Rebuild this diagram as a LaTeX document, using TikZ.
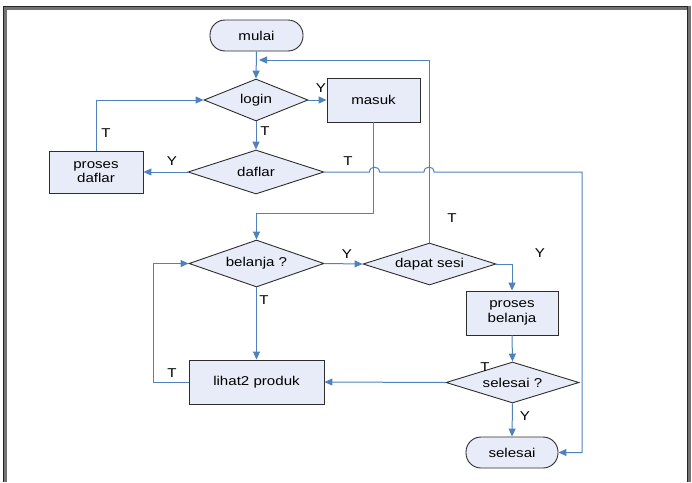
\documentclass[tikz,border=0pt]{standalone}
\usepackage{fontspec}
\setmainfont{Liberation Sans}[FakeStretch=1.18]
\usetikzlibrary{shapes.geometric,arrows.meta}
\definecolor{shapefill}{RGB}{232,236,248}
\definecolor{conn}{RGB}{79,129,189}
\definecolor{edge}{RGB}{45,45,45}
\tikzset{
  base/.style={draw=edge,fill=shapefill,line width=0.9pt,inner sep=0pt,align=center,font=\fontsize{12.8}{14.5}\selectfont},
  term/.style={base,rectangle,rounded corners=15pt},
  procbox/.style={base,rectangle},
  decide/.style={base,diamond,aspect=3},
  conline/.style={draw=conn,line width=1pt},
  arr/.style={conline,-{Triangle[length=8pt,width=7pt]}},
  lbl/.style={font=\fontsize{12.8}{14.5}\selectfont,inner sep=0pt}
}
\begin{document}
\begin{tikzpicture}[x=1pt,y=-1pt]
\useasboundingbox (0,0) rectangle (692,482);
% frame
\draw[line width=4pt,color=black!55] (5,482) -- (5,8) -- (689,8) -- (689,482);
\draw[line width=1pt,color=black!85] (3,482) -- (3,6) -- (687,6) -- (687,482);
% nodes
\node[term,minimum width=93pt,minimum height=31pt] (mulai) at (256.5,35.5) {mulai};
\node[decide,minimum width=104pt,minimum height=42pt] (login) at (256,100) {login};
\node[procbox,minimum width=93pt,minimum height=44pt] (masuk) at (373.5,100) {masuk};
\node[decide,minimum width=136pt,minimum height=44pt] (daflar) at (256,172) {daflar};
\node[procbox,minimum width=94pt,minimum height=42pt] (pdaflar) at (96,172) {proses\\daflar};
\node[decide,minimum width=135pt,minimum height=47pt] (belanja) at (256.5,263.5) {belanja ?};
\node[decide,minimum width=133pt,minimum height=42pt] (sesi) at (429.5,264) {dapat sesi};
\node[procbox,minimum width=92pt,minimum height=44pt] (pbelanja) at (512,313) {proses\\belanja};
\node[decide,minimum width=133pt,minimum height=41pt] (selq) at (512.5,382.5) {selesai ?};
\node[term,minimum width=92pt,minimum height=31pt] (selesai) at (512,452.5) {selesai};
\node[procbox,minimum width=135pt,minimum height=44pt] (lihat) at (256.5,382) {lihat2 produk};
% helper coordinates
\coordinate (ret) at (259,60);
\coordinate (rx) at (582,172);
% connectors
\draw[arr] (mulai.south) -- (login.north);
\draw[arr] (sesi.north) -- (sesi.north |- ret) -- (ret);
\draw[arr] (login.east) -- (masuk.west);
\draw[arr] (login.south) -- (daflar.north);
\draw[arr] (daflar.west) -- (pdaflar.east);
\draw[arr] (pdaflar.north) -- (pdaflar.north |- login.west) -- (login.west);
\draw[arr] (daflar.east) -- (369.5,172) .. controls (369.5,165.5) and (379.5,165.5) .. (379.5,172)
  -- (424,172) .. controls (424,165.5) and (434,165.5) .. (434,172)
  -- (rx) -- (rx |- selesai.east) -- (selesai.east);
\draw[arr] (masuk.south) -- (masuk.south |- 0,213) -- (belanja.north |- 0,213) -- (belanja.north);
\draw[arr] (belanja.east) -- (sesi.west);
\draw[arr] (belanja.south) -- (lihat.north);
\draw[arr] (lihat.west) -- (153,382) -- (153,263.5) -- (belanja.west);
\draw[arr] (sesi.east) -- (pbelanja.north |- sesi.east) -- (pbelanja.north);
\draw[arr] (pbelanja.south) -- (selq.north);
\draw[arr] (selq.south) -- (selesai.north);
\draw[arr] (selq.west) -- (lihat.east);
% labels
\node[lbl] (l1) at (321,88) {Y};
\node[lbl] (l2) at (265,131) {T};
\node[lbl] (l3) at (106,133) {T};
\node[lbl] (l4) at (172,161) {Y};
\node[lbl] (l5) at (348,161) {T};
\node[lbl] (l6) at (452,218) {T};
\node[lbl] (l7) at (540,253) {Y};
\node[lbl] (l8) at (347,254) {Y};
\node[lbl] (l9) at (264,300) {T};
\node[lbl] (l10) at (172,373) {T};
\node[lbl] (l11) at (485,367) {T};
\node[lbl] (l12) at (525,416) {Y};
\end{tikzpicture}
\end{document}
